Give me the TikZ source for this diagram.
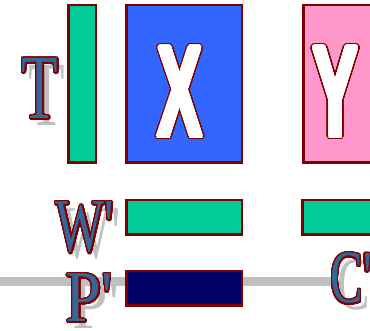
\documentclass[tikz,border=0pt]{standalone}
\usepackage{fontspec}
\usepackage{contour}
\usetikzlibrary{backgrounds}
\newfontfamily\lserif{Liberation Serif}
\newfontfamily\lsans{Liberation Sans}
\definecolor{dred}{RGB}{128,0,0}
\definecolor{cgreen}{RGB}{0,204,153}
\definecolor{cblue}{RGB}{51,102,255}
\definecolor{cpink}{RGB}{255,153,204}
\definecolor{cnavy}{RGB}{0,0,102}
\definecolor{csteel}{RGB}{51,102,153}
\definecolor{cshadow}{RGB}{192,192,192}
\contourlength{1.4pt}
\contournumber{32}
\newcommand\outlined[1]{\contour{dred}{#1}}
\newcommand\bigX{\scalebox{0.51}[1]{\fontsize{130}{130}\selectfont X}}
\newcommand\bigY{\scalebox{0.52}[1]{\fontsize{130}{130}\selectfont Y}}
\tikzset{
  boxstyle/.style={draw=dred, line width=2.5pt, inner sep=0pt, outer sep=0pt},
  serifl/.style={inner sep=0pt, outer sep=0pt, text=csteel, font=\lserif},
  serifsh/.style={inner sep=0pt, outer sep=0pt, text=cshadow, font=\lserif},
  sansl/.style={inner sep=0pt, outer sep=0pt, text=white, font=\lsans\bfseries},
  sanso/.style={inner sep=0pt, outer sep=0pt, text=dred, font=\lsans\bfseries},
}
\begin{document}
\begin{tikzpicture}[x=1pt,y=1pt]
\useasboundingbox (0,0) rectangle (370,-331);
% boxes
\node[boxstyle, fill=cgreen, minimum width=27.5, minimum height=157.5] (tbar) at (82,-84) {};
\node[boxstyle, fill=cblue, minimum width=115.5, minimum height=157.5] (xbox) at (184,-84) {};
\node[boxstyle, fill=cpink, minimum width=115.5, minimum height=157.5] (ybox) at (361,-84) {};
\node[boxstyle, fill=cgreen, minimum width=115.5, minimum height=34.5] (wbarA) at (184,-217.5) {};
\node[boxstyle, fill=cgreen, minimum width=115.5, minimum height=34.5] (wbarB) at (360,-217.5) {};
\node[boxstyle, fill=cnavy, minimum width=115.5, minimum height=34.5] (pbar) at (184,-288.5) {};
% big letters in boxes: dark red outline layer, then thickened white letter
\node[sanso, anchor=base] (xo) at (180,-136.7) {{\contourlength{3.3pt}\contour{dred}{\bigX}}};
\node[sansl, anchor=base] (xl) at (180,-136.7) {{\contourlength{1.9pt}\contour{white}{\bigX}}};
\node[sanso, anchor=base] (yo) at (335.5,-136.7) {{\contourlength{3.3pt}\contour{dred}{\bigY}}};
\node[sansl, anchor=base] (yl) at (335.5,-136.7) {{\contourlength{1.9pt}\contour{white}{\bigY}}};
% shadows
\node[serifsh, anchor=base] (tsh) at (47,-125.8) {\scalebox{0.65}[1]{\fontsize{92}{92}\selectfont T}};
\node[serifsh, anchor=base] (wsh) at (92,-258.8) {\scalebox{0.68}[1]{\fontsize{76}{76}\selectfont W'}};
\node[serifsh, anchor=base] (psh) at (96.5,-329) {\scalebox{0.88}[1]{\fontsize{73}{73}\selectfont P'}};
\node[serifsh, anchor=base west] (csh) at (337.5,-310) {\scalebox{0.65}[1]{\fontsize{75}{75}\selectfont C'}};
% labels
\node[serifl, anchor=base] (tl) at (40,-118.8) {\outlined{\scalebox{0.65}[1]{\fontsize{92}{92}\selectfont T}}};
\node[serifl, anchor=base] (wl) at (85,-251.8) {\outlined{\scalebox{0.68}[1]{\fontsize{76}{76}\selectfont W'}}};
\node[serifl, anchor=base] (pl) at (89.5,-322) {\outlined{\scalebox{0.88}[1]{\fontsize{73}{73}\selectfont P'}}};
\node[serifl, anchor=base west] (cl) at (330.5,-303) {\outlined{\scalebox{0.65}[1]{\fontsize{75}{75}\selectfont C'}}};
% gray line behind
\coordinate (lstart) at (0,-282);
\begin{pgfonlayer}{background}
\draw[cshadow, line width=9pt] (lstart) -- (lstart -| cl.west);
\end{pgfonlayer}
\end{tikzpicture}
\end{document}
